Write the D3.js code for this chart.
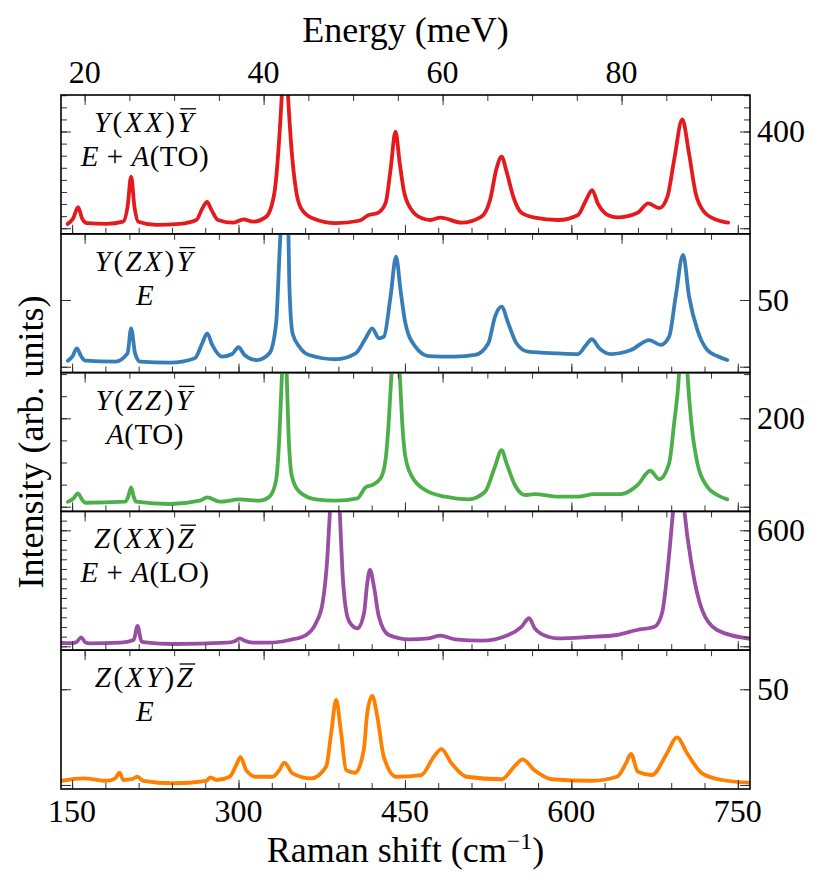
<!DOCTYPE html>
<html lang="en">
<head>
<meta charset="utf-8">
<title>Raman spectra</title>
<script src="https://d3js.org/d3.v7.min.js"></script>
<style>
  body { margin: 0; background: #fff; }
</style>
</head>
<body>
<div id="chart"></div>
<script>
// ---- data: [Raman shift (cm-1), intensity (arb. units)] ----
var yxxSpectrum = [[146,18],[151,41],[155.4,87],[159,41],[163.5,21],[181,18],[196,27],[200,89],[203.2,213],[206.2,89],[209.7,27],[226,14],[247,18],[262,34],[267.5,83],[271.6,109],[275.6,76],[281.5,34],[295,23],[304.5,37],[313,27],[325,48],[332.3,145],[336.2,337],[339.1,559],[341.7,820],[344.5,559],[347.6,337],[351.8,158],[356.3,83],[366.7,41],[387.7,21],[408.6,31],[417.5,55],[425,62],[432.5,103],[437,241],[441.5,399],[445.3,269],[448.9,158],[454.9,83],[465.3,41],[473,34],[482,44],[501,23],[519,48],[526.7,117],[532.6,248],[537.1,296],[541.6,234],[547.6,131],[555,64],[567,44],[588,34],[606,55],[613.3,117],[618.7,158],[623.8,103],[632.8,55],[641.7,45],[659.7,64],[669.3,103],[679.1,83],[686.6,131],[692.6,282],[700,450],[706,310],[712,145],[719.5,69],[731.4,34],[741.3,23]];

var yzxSpectrum = [[146.2,4.5],[150.5,8],[154.3,13.8],[158,8],[161.9,4.5],[188.8,3.8],[200,10],[203.2,28.8],[206.8,10],[211.3,3.8],[238.2,3],[260.6,6.3],[267.3,17.6],[271.8,25],[276.3,16.3],[285.2,7.5],[294.2,9.5],[300,14.6],[305.4,8.8],[316.6,5],[327.8,10],[333.9,32.6],[336.8,82.5],[339.3,130],[341.9,220],[344.4,130],[345.8,62],[348.7,25],[354.8,15],[363.7,8.8],[387.7,5.6],[405.6,10],[414.6,21.3],[420.5,28.8],[426.5,21.3],[431,22.5],[437,52.5],[442,82.5],[446,57.5],[450.4,32.6],[459.4,15],[471.3,8],[495.3,7.5],[513.2,8.8],[525.2,17.6],[531.2,37.5],[537.1,45],[543.1,32.6],[550.5,17.6],[561,11.3],[588,10],[606,9.5],[613.3,16.3],[618.4,20.6],[625.3,13.8],[635.7,9.5],[653.7,12.5],[670.2,20],[680.6,16.3],[688.1,22.5],[694,52.5],[700.7,83.8],[706.1,52.5],[713.6,27.5],[722.5,12.5],[731.5,8],[740.5,5]];

var yzzSpectrum = [[146.2,11.3],[151,18],[155.2,30.3],[159,16],[161.9,9],[197.8,11.3],[200.5,22],[203.2,43.9],[205.6,22],[207.7,11.3],[238.2,6.1],[265.1,13.6],[271.8,21.3],[283,11.3],[301,16.7],[318.9,13.6],[327.8,22.6],[333.9,60.4],[336.8,158],[339.2,302],[341.3,480],[343.4,302],[345.2,158],[348.2,67.9],[354.8,33.9],[369.7,16.7],[387.7,13.6],[407.1,19],[414.6,43.9],[420.5,49.1],[428.1,64.2],[432.5,105.6],[435.5,196],[437.9,302],[441.6,520],[445.3,302],[447.4,196],[450.4,113],[456.4,67.9],[468.4,37.8],[486.3,22.6],[507.2,16.7],[522.2,33.9],[531.1,90.5],[537.1,128],[541.6,98.2],[549.1,49.1],[558.1,26.5],[567,28.7],[588,22.6],[606,22.6],[620.9,28.7],[644.7,28.7],[659.7,49.1],[671.1,81.4],[679.2,62],[688.1,98.2],[692.6,188.6],[697.1,302],[700.9,520],[704.6,302],[708.2,188.6],[713.6,98.2],[722.5,45.2],[731.5,26.5],[740.5,16.7]];

var zxxSpectrum = [[140,17],[150,16],[154,22],[158.2,46.5],[162,20],[166,15.5],[193.5,18.6],[205.5,32.6],[209,105],[212.5,26],[216,20],[241.4,11.9],[289.2,18.6],[297,28],[301.2,41.4],[305,30],[313.1,18.6],[328,18.6],[345.8,32.6],[360.8,58.4],[369.7,119],[375.7,222],[380.1,463],[382.3,688],[386.8,1100],[391.3,688],[393.6,395],[398.1,153],[402,110],[407.1,93],[413.1,171],[416,326],[418.5,395],[422.1,308],[426.5,153],[435.5,58.4],[453.5,36.2],[471.4,41.4],[481.9,54.8],[495.3,36.2],[519.2,29],[543.1,58.4],[555,101],[561.9,145],[567,93],[579,49.7],[588,41.4],[615,48],[641,58.4],[659.1,84.3],[674.9,101],[681.7,171],[688.5,498],[691.6,696],[696.8,1100],[702,696],[708.7,412],[717.8,188],[731.3,84.3],[760,40]];

var zxySpectrum = [[140,2.2],[160.4,3.5],[181.4,2.2],[188.8,3.5],[192.7,6.4],[196.3,2.6],[203.8,3],[208.8,4.3],[214.2,2.2],[241.1,0.9],[271.1,2.2],[274.7,4],[280,2.6],[292,4.3],[298,10.5],[301.8,14.5],[306.9,7.8],[315.9,4.3],[330.8,4.3],[336.8,7.8],[341.3,11.7],[348.7,6.1],[365.4,3.5],[379,9.6],[383.5,27],[388,44.4],[392.5,27],[397,7.8],[405.2,6.4],[412.9,18.3],[416,37.5],[420.5,46.5],[425.1,35.7],[430.9,14.8],[442.2,4.3],[464.8,5.2],[476.1,14.8],[482.9,18.7],[492,11.3],[505.5,4.3],[537.2,3],[548.5,9.6],[556.1,13.4],[566.5,7.8],[582.3,3],[618.4,2.2],[641,4.3],[649.2,11.3],[653.7,16.2],[660,6.9],[672.6,5.2],[686.2,16.6],[695.2,24.9],[704.3,16.6],[717.8,6.1],[735.9,2.6],[760,1.2]];

var spectra = [yxxSpectrum, yzxSpectrum, yzzSpectrum, zxxSpectrum, zxySpectrum];

// panel annotations (last letter of the geometry carries a bar)
var geometries = ["Y(XX)Y", "Y(ZX)Y", "Y(ZZ)Y", "Z(XX)Z", "Z(XY)Z"];
var modes = ["E + A(TO)", "E", "A(TO)", "E + A(LO)", "E"];

// intensity range of each panel and its ticks
var yDomains = [[-23, 551], [-4.4, 99.6], [-10.6, 303.4], [-20.2, 697.8], [-2.1, 70.4]];
var yMajorTicks = [[0, 400], [0, 50], [0, 200], [0, 600], [0, 50]];
var yMinorTicks = [[0,50,100,150,200,250,300,350,400,450,500,550], [0, 50], [0,50,100,150,200,250,300], [0,50,100,150,200,250,300,350,400,450,500,550,600,650], [0, 50]];
var yTickLabels = [[400], [50], [200], [600], [50]];

// shared x axis ticks
var xDomain = [140, 761];
var cmMajorTicks = [150, 300, 450, 600, 750];
var cmMinorTicks = [150,180,210,240,270,300,330,360,390,420,450,480,510,540,570,600,630,660,690,720,750];
var meVMajorTicks = [20, 40, 60, 80];
var meVMinorTicks = [20,25,30,35,40,45,50,55,60,65,70,75,80,85,90];
var meVPerCm = 0.123984;

var colors = ["#e41a1c", "#377eb8", "#4daf4a", "#984ea3", "#ff7f00"];

// ---- layout ----
var margin = {top: 95, right: 79, bottom: 97, left: 61};
var width = 829 - margin.left - margin.right;
var panelH = (886 - margin.top - margin.bottom) / spectra.length;
var serif = "'Liberation Serif', 'Times New Roman', Times, 'DejaVu Serif'";
var labelSize = 29;

var svg = d3.select("#chart")
  .append("svg")
    .attr("width", 829)
    .attr("height", 886)
    .attr("font-family", serif)
    .style("font-family", serif);

var plot = svg.append("g")
  .attr("transform", "translate(" + margin.left + "," + margin.top + ")");

var x = d3.scaleLinear().domain(xDomain).range([0, width]);
var xE = d3.scaleLinear().domain([xDomain[0] * meVPerCm, xDomain[1] * meVPerCm]).range([0, width]);

// draws inward ticks only (no labels, no domain line)
function ticks(g, axis, tx, ty, size, values) {
  g.append("g")
    .attr("transform", "translate(" + tx + "," + ty + ")")
    .style("color", "#333")
    .call(axis.tickValues(values).tickSize(size).tickFormat(""))
    .call(function(s) { s.select(".domain").remove(); })
    .selectAll("line").attr("stroke-width", 1);
}

// panel label: scattering geometry, e.g. Y(XX)Ybar
function geometryLabel(g, str, ty) {
  var t = g.append("text")
    .attr("x", 84).attr("y", ty)
    .attr("text-anchor", "middle")
    .style("font-size", labelSize + "px")
    .style("letter-spacing", "2.5px");
  str.split("").forEach(function(ch) {
    var ts = t.append("tspan").text(ch);
    if (/[A-Z]/.test(ch)) ts.style("font-style", "italic");
  });
  // bar over the last letter
  var node = t.node();
  var n = node.getNumberOfChars();
  var s = node.getStartPositionOfChar(n - 1);
  var e = node.getEndPositionOfChar(n - 1);
  g.append("line")
    .attr("x1", s.x + 3).attr("x2", e.x)
    .attr("y1", ty - 0.8 * labelSize).attr("y2", ty - 0.8 * labelSize)
    .attr("stroke", "#000")
    .attr("stroke-width", 1.3);
}

// panel label: mode symmetry, e.g. E + A(TO)
function modeLabel(g, str, ty) {
  var t = g.append("text")
    .attr("x", 84).attr("y", ty)
    .attr("text-anchor", "middle")
    .attr("xml:space", "preserve")
    .style("white-space", "pre")
    .style("font-size", labelSize + "px")
    .style("letter-spacing", "0.5px");
  var inParen = false;
  str.split("").forEach(function(ch) {
    if (ch === "(") inParen = true;
    var ts = t.append("tspan").text(ch);
    if (/[A-Z]/.test(ch) && !inParen) ts.style("font-style", "italic");
    if (ch === ")") inParen = false;
  });
}

spectra.forEach(function(data, i) {
  var g = plot.append("g")
    .attr("transform", "translate(0," + (i * panelH) + ")");

  var y = d3.scaleLinear().domain(yDomains[i]).range([panelH, 0]);

  g.append("clipPath").attr("id", "clip" + i)
    .append("rect").attr("width", width).attr("height", panelH);

  var line = d3.line()
    .x(function(d) { return x(d[0]); })
    .y(function(d) { return y(d[1]); })
    .curve(d3.curveMonotoneX);

  g.append("path")
    .datum(data)
    .attr("clip-path", "url(#clip" + i + ")")
    .attr("fill", "none")
    .attr("stroke", colors[i])
    .attr("stroke-width", 3.8)
    .attr("stroke-linejoin", "round")
    .attr("stroke-linecap", "round")
    .attr("d", line);

  // Raman shift ticks on the bottom edge, energy ticks on the top edge
  ticks(g, d3.axisTop(x), 0, panelH, 6, cmMinorTicks);
  ticks(g, d3.axisTop(x), 0, panelH, 9, cmMajorTicks);
  ticks(g, d3.axisBottom(xE), 0, 0, 6, meVMinorTicks);
  ticks(g, d3.axisBottom(xE), 0, 0, 10, meVMajorTicks);

  // intensity ticks on both sides
  ticks(g, d3.axisRight(y), 0, 0, 6, yMinorTicks[i]);
  ticks(g, d3.axisRight(y), 0, 0, 10, yMajorTicks[i]);
  ticks(g, d3.axisLeft(y), width, 0, 6, yMinorTicks[i]);
  ticks(g, d3.axisLeft(y), width, 0, 10, yMajorTicks[i]);

  g.selectAll(".ylab")
    .data(yTickLabels[i])
    .enter().append("text")
      .attr("x", width + 7)
      .attr("y", function(d) { return y(d); })
      .attr("dy", "0.34em")
      .style("font-size", "32px")
      .text(function(d) { return d; });

  // frame
  g.append("rect")
    .attr("width", width)
    .attr("height", panelH)
    .attr("fill", "none")
    .attr("stroke", "#000")
    .attr("stroke-width", 1.6);

  geometryLabel(g, geometries[i], 37);
  modeLabel(g, modes[i], 71);
});

// top energy labels
plot.selectAll(".elab")
  .data(meVMajorTicks)
  .enter().append("text")
    .attr("x", function(d) { return xE(d); })
    .attr("y", -12)
    .attr("text-anchor", "middle")
    .style("font-size", "32px")
    .text(function(d) { return d; });

// bottom Raman shift labels
plot.selectAll(".clab")
  .data(cmMajorTicks)
  .enter().append("text")
    .attr("x", function(d) { return x(d); })
    .attr("y", spectra.length * panelH + 33)
    .attr("text-anchor", "middle")
    .style("font-size", "32px")
    .text(function(d) { return d; });

// axis titles
plot.append("text")
  .attr("x", width / 2)
  .attr("y", -53)
  .attr("text-anchor", "middle")
  .style("font-size", "36px")
  .text("Energy (meV)");

var xt = plot.append("text")
  .attr("x", width / 2)
  .attr("y", spectra.length * panelH + 73)
  .attr("text-anchor", "middle")
  .style("font-size", "36px");
xt.append("tspan").text("Raman shift (cm");
xt.append("tspan").attr("dy", "-13").style("font-size", "24px").text("\u22121");
xt.append("tspan").attr("dy", "13").text(")");

svg.append("text")
  .attr("transform", "translate(43," + (margin.top + spectra.length * panelH / 2) + ") rotate(-90)")
  .attr("text-anchor", "middle")
  .style("font-size", "36px")
  .text("Intensity (arb. units)");
</script>
</body>
</html>
